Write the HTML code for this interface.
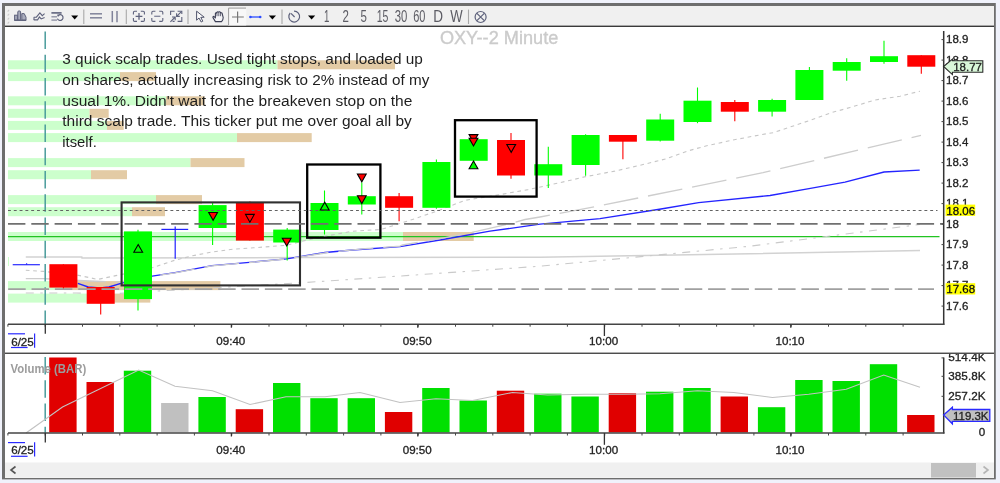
<!DOCTYPE html><html><head><meta charset="utf-8"><title>OXY 2 Minute</title>
<style>html,body{margin:0;padding:0;background:#f1f3fb;}body{width:1000px;height:483px;overflow:hidden;position:relative;font-family:"Liberation Sans",sans-serif;}svg{position:absolute;left:0;top:0;display:block;filter:blur(0.33px)}text{font-family:"Liberation Sans",sans-serif}.b{stroke:#222;stroke-width:0.3px}</style></head><body>
<svg width="1000" height="483" viewBox="0 0 1000 483">
<rect x="0" y="0" width="1000" height="483" fill="#f0f2fb"/>
<rect x="2" y="3" width="993.8" height="476.4" fill="#6e6e6e"/>
<rect x="5" y="6" width="989" height="472" fill="#ffffff"/>
<rect x="5" y="6" width="989" height="20" fill="#f0f0f0"/>
<rect x="5" y="25.6" width="989" height="1.4" fill="#3a3a3a"/>
<rect x="5" y="352.6" width="989" height="1.3" fill="#3a3a3a"/>
<rect x="5" y="462.5" width="989" height="15.3" fill="#f0f0f0"/>
<rect x="931" y="463" width="45" height="14.5" fill="#c1c1c1"/>
<path d="M15.5 466.5 L11 470 L15.5 473.5" fill="none" stroke="#555" stroke-width="1.6"/>
<path d="M983.5 466.5 L988 470 L983.5 473.5" fill="none" stroke="#b5b5b5" stroke-width="1.6"/>
<rect x="8.0" y="60.3" width="269.5" height="9.0" fill="#ccffcc"/>
<rect x="277.5" y="60.3" width="117.5" height="9.0" fill="#e3cba5"/>
<rect x="8.0" y="72.1" width="112.0" height="9.0" fill="#ccffcc"/>
<rect x="120.0" y="72.1" width="36.0" height="9.0" fill="#e3cba5"/>
<rect x="8.0" y="96.3" width="158.0" height="9.0" fill="#ccffcc"/>
<rect x="166.0" y="96.3" width="38.5" height="9.0" fill="#e3cba5"/>
<rect x="8.0" y="108.8" width="81.5" height="9.0" fill="#ccffcc"/>
<rect x="89.5" y="108.8" width="19.2" height="9.0" fill="#e3cba5"/>
<rect x="8.0" y="120.9" width="99.0" height="9.0" fill="#ccffcc"/>
<rect x="107.0" y="120.9" width="16.7" height="9.0" fill="#e3cba5"/>
<rect x="8.0" y="133.1" width="229.0" height="9.0" fill="#ccffcc"/>
<rect x="237.0" y="133.1" width="74.7" height="9.0" fill="#e3cba5"/>
<rect x="8.0" y="158.1" width="182.5" height="9.0" fill="#ccffcc"/>
<rect x="190.5" y="158.1" width="54.0" height="9.0" fill="#e3cba5"/>
<rect x="8.0" y="170.2" width="83.0" height="9.0" fill="#ccffcc"/>
<rect x="91.0" y="170.2" width="36.0" height="9.0" fill="#e3cba5"/>
<rect x="8.0" y="195.1" width="148.0" height="9.0" fill="#ccffcc"/>
<rect x="156.0" y="195.1" width="46.0" height="9.0" fill="#e3cba5"/>
<rect x="8.0" y="207.2" width="124.0" height="9.0" fill="#ccffcc"/>
<rect x="132.0" y="207.2" width="33.0" height="9.0" fill="#e3cba5"/>
<rect x="8.0" y="232.0" width="395.0" height="9.0" fill="#ccffcc"/>
<rect x="403.0" y="232.0" width="70.7" height="9.0" fill="#e3cba5"/>
<rect x="8.0" y="257.0" width="1.0" height="9.0" fill="#ccffcc"/>
<rect x="8.0" y="281.1" width="56.0" height="9.0" fill="#ccffcc"/>
<rect x="64.0" y="281.1" width="156.4" height="9.0" fill="#e3cba5"/>
<rect x="8.0" y="293.6" width="92.0" height="9.0" fill="#ccffcc"/>
<rect x="100.0" y="293.6" width="50.3" height="9.0" fill="#e3cba5"/>
<text x="439.9" y="43.5" font-size="17.8" fill="#cbcbcb" stroke="#cbcbcb" stroke-width="0.35" textLength="118.4" lengthAdjust="spacingAndGlyphs">OXY--2 Minute</text>
<line x1="8" y1="236.6" x2="939.5" y2="236.6" stroke="#22c422" stroke-width="1.1"/>
<polyline points="25.8,257.0 81.8,257.0 82.0,258.0 300.0,257.6 540.0,257.3 750.0,253.7 920.0,250.5" fill="none" stroke="#d2d2d2" stroke-width="1.5"/>
<polyline points="25.8,270.3 43.4,271.4 78.6,275.4 97.8,279.4 117.0,275.4 138.0,271.0 153.0,267.5 175.0,260.2 191.4,256.0 212.0,252.0 232.8,249.2 253.5,247.8 286.6,245.3 303.0,241.0 325.0,236.2 352.5,231.2 381.0,229.5 415.0,218.7 440.0,210.0 465.0,200.3 500.0,194.6 528.0,189.6 560.0,182.7 585.0,176.8 614.7,171.1 639.7,165.4 667.0,158.6 687.6,151.0 705.8,146.0 733.0,140.0 760.0,134.9 773.5,132.6 811.0,120.0 832.0,112.5 850.0,107.5 875.0,100.0 900.0,96.2 920.0,91.2" fill="none" stroke="#c6c6c6" stroke-width="1.1" stroke-dasharray="3.7 3.7"/>
<polyline points="25.8,293.0 76.0,293.0 110.0,294.0 150.0,291.5 220.0,287.5 305.0,282.5 415.0,275.0 540.0,266.2 750.0,246.2 920.0,224.5" fill="none" stroke="#cacaca" stroke-width="1.1" stroke-dasharray="8 6.5 2.5 6.5"/>
<line x1="12.7" y1="264.7" x2="39.9" y2="264.7" stroke="#2a2aff" stroke-width="1.2"/>
<line x1="26.6" y1="263.2" x2="26.6" y2="264.7" stroke="#2a2aff" stroke-width="1.2"/>
<polyline points="77.8,283.4 88.2,287.0 100.0,288.0 109.0,287.0 123.4,282.6 152.2,276.2 175.0,272.6 212.0,265.6 249.4,262.3 286.6,258.8 325.0,252.5 352.5,250.0 400.0,246.7 440.0,240.0 490.0,231.2 540.0,224.2 600.0,218.6 661.0,209.0 698.6,202.7 770.0,195.5 809.0,188.7 845.0,182.2 884.0,172.0 919.7,170.2" fill="none" stroke="#2424ff" stroke-width="1.35"/>
<polyline points="25.8,278.6 43.4,278.6 78.6,280.5 101.0,281.5 120.0,282.0 152.0,276.5 175.0,272.8 212.0,265.8 249.4,262.5 286.6,259.0 332.0,252.0 365.0,248.7 400.0,246.2 402.5,245.0 440.0,238.7 477.5,231.2 510.0,223.7 525.0,219.5 540.0,217.0 600.0,205.7 763.0,172.7 921.0,135.3" fill="none" stroke="#cdcdcd" stroke-width="1.35" stroke-dasharray="35 10"/>
<line x1="45.2" y1="31.5" x2="45.2" y2="324" stroke="#4a9c9c" stroke-width="1.5" stroke-dasharray="17.5 5.75"/>
<line x1="45.2" y1="357" x2="45.2" y2="433" stroke="#4a9c9c" stroke-width="1.5" stroke-dasharray="17.5 5.75"/>
<line x1="63.4" y1="264.2" x2="63.4" y2="289.0" stroke="#ff0000" stroke-width="1.1"/>
<rect x="49.4" y="264.2" width="28.0" height="23.4" fill="#ff0000"/>
<line x1="100.7" y1="287.0" x2="100.7" y2="314.5" stroke="#ff0000" stroke-width="1.1"/>
<rect x="86.7" y="287.0" width="28.0" height="16.8" fill="#ff0000"/>
<line x1="138.0" y1="229.8" x2="138.0" y2="310.5" stroke="#00ff00" stroke-width="1.1"/>
<rect x="124.0" y="231.4" width="28.0" height="67.7" fill="#00ff00"/>
<line x1="175.2" y1="226.5" x2="175.2" y2="258.7" stroke="#2020ff" stroke-width="1.2"/>
<line x1="161.4" y1="229.4" x2="188.2" y2="229.4" stroke="#2020ff" stroke-width="1.2"/>
<line x1="212.6" y1="202.8" x2="212.6" y2="245.0" stroke="#00ff00" stroke-width="1.1"/>
<rect x="198.6" y="205.1" width="28.0" height="22.9" fill="#00ff00"/>
<line x1="249.9" y1="201.6" x2="249.9" y2="240.6" stroke="#ff0000" stroke-width="1.1"/>
<rect x="235.9" y="202.8" width="28.0" height="37.8" fill="#ff0000"/>
<line x1="287.2" y1="228.0" x2="287.2" y2="260.6" stroke="#00ff00" stroke-width="1.1"/>
<rect x="273.2" y="229.6" width="28.0" height="12.9" fill="#00ff00"/>
<line x1="324.5" y1="190.5" x2="324.5" y2="234.5" stroke="#00ff00" stroke-width="1.1"/>
<rect x="310.5" y="203.0" width="28.0" height="27.0" fill="#00ff00"/>
<line x1="361.8" y1="182.5" x2="361.8" y2="214.5" stroke="#00ff00" stroke-width="1.1"/>
<rect x="347.8" y="196.2" width="28.0" height="8.3" fill="#00ff00"/>
<line x1="399.1" y1="193.0" x2="399.1" y2="221.2" stroke="#ff0000" stroke-width="1.1"/>
<rect x="385.1" y="196.2" width="28.0" height="11.6" fill="#ff0000"/>
<line x1="436.4" y1="159.5" x2="436.4" y2="208.7" stroke="#00ff00" stroke-width="1.1"/>
<rect x="422.4" y="162.0" width="28.0" height="45.8" fill="#00ff00"/>
<line x1="473.7" y1="138.5" x2="473.7" y2="168.0" stroke="#00ff00" stroke-width="1.1"/>
<rect x="459.7" y="139.2" width="28.0" height="21.6" fill="#00ff00"/>
<line x1="511.0" y1="133.0" x2="511.0" y2="178.7" stroke="#ff0000" stroke-width="1.1"/>
<rect x="497.0" y="140.0" width="28.0" height="35.5" fill="#ff0000"/>
<line x1="548.3" y1="146.7" x2="548.3" y2="188.0" stroke="#00ff00" stroke-width="1.1"/>
<rect x="534.3" y="164.2" width="28.0" height="11.3" fill="#00ff00"/>
<line x1="585.6" y1="134.2" x2="585.6" y2="175.7" stroke="#00ff00" stroke-width="1.1"/>
<rect x="571.6" y="135.0" width="28.0" height="30.0" fill="#00ff00"/>
<line x1="622.9" y1="135.0" x2="622.9" y2="159.2" stroke="#ff0000" stroke-width="1.1"/>
<rect x="608.9" y="135.0" width="28.0" height="6.7" fill="#ff0000"/>
<line x1="660.2" y1="113.7" x2="660.2" y2="141.5" stroke="#00ff00" stroke-width="1.1"/>
<rect x="646.2" y="119.5" width="28.0" height="21.2" fill="#00ff00"/>
<line x1="697.5" y1="87.5" x2="697.5" y2="123.2" stroke="#00ff00" stroke-width="1.1"/>
<rect x="683.5" y="100.7" width="28.0" height="21.3" fill="#00ff00"/>
<line x1="734.8" y1="100.0" x2="734.8" y2="121.2" stroke="#ff0000" stroke-width="1.1"/>
<rect x="720.8" y="102.0" width="28.0" height="9.7" fill="#ff0000"/>
<line x1="772.1" y1="98.7" x2="772.1" y2="116.5" stroke="#00ff00" stroke-width="1.1"/>
<rect x="758.1" y="100.0" width="28.0" height="11.7" fill="#00ff00"/>
<line x1="809.4" y1="67.0" x2="809.4" y2="100.0" stroke="#00ff00" stroke-width="1.1"/>
<rect x="795.4" y="70.0" width="28.0" height="30.0" fill="#00ff00"/>
<line x1="846.7" y1="58.2" x2="846.7" y2="80.7" stroke="#00ff00" stroke-width="1.1"/>
<rect x="832.7" y="62.0" width="28.0" height="8.7" fill="#00ff00"/>
<line x1="884.0" y1="40.7" x2="884.0" y2="63.7" stroke="#00ff00" stroke-width="1.1"/>
<rect x="870.0" y="56.2" width="28.0" height="5.8" fill="#00ff00"/>
<line x1="921.3" y1="55.2" x2="921.3" y2="73.7" stroke="#ff0000" stroke-width="1.1"/>
<rect x="907.3" y="55.2" width="28.0" height="11.5" fill="#ff0000"/>
<rect x="121.6" y="202.4" width="178.4" height="83.0" fill="none" stroke="#303030" stroke-width="2.1"/>
<rect x="307.2" y="164.5" width="73.2" height="73.2" fill="none" stroke="#000" stroke-width="2.3"/>
<rect x="455.0" y="120.2" width="81.6" height="76.4" fill="none" stroke="#000" stroke-width="2.3"/>
<line x1="8" y1="210.5" x2="937.5" y2="210.5" stroke="#626262" stroke-width="1" stroke-dasharray="2.9 2.9"/>
<line x1="8" y1="223.9" x2="943" y2="223.9" stroke="#707070" stroke-width="1.9" stroke-dasharray="17.4 5.9"/>
<line x1="8.2" y1="289.1" x2="934" y2="289.1" stroke="#a0a0a0" stroke-width="1.6" stroke-dasharray="17.5 5.83"/>
<path d="M133.8 252.3 L142.6 252.3 L138.2 244.5 Z" fill="none" stroke="#000" stroke-width="1.1"/>
<path d="M208.7 212.5 L217.5 212.5 L213.1 220.3 Z" fill="#ff0000" stroke="#000" stroke-width="1.1"/>
<path d="M245.5 214.4 L254.3 214.4 L249.9 222.2 Z" fill="none" stroke="#000" stroke-width="1.1"/>
<path d="M282.3 238.2 L291.1 238.2 L286.7 246.0 Z" fill="#ff0000" stroke="#000" stroke-width="1.1"/>
<path d="M320.3 210.0 L329.1 210.0 L324.7 202.2 Z" fill="none" stroke="#000" stroke-width="1.1"/>
<path d="M357.4 174.0 L366.2 174.0 L361.8 181.8 Z" fill="#ff0000" stroke="#000" stroke-width="1.1"/>
<path d="M357.4 195.8 L366.2 195.8 L361.8 203.6 Z" fill="#ff0000" stroke="#000" stroke-width="1.1"/>
<path d="M469.1 134.6 L477.9 134.6 L473.5 142.4 Z" fill="#ff0000" stroke="#000" stroke-width="1.1"/>
<path d="M469.1 138.2 L477.9 138.2 L473.5 146.0 Z" fill="#ff0000" stroke="#000" stroke-width="1.1"/>
<path d="M469.1 168.8 L477.9 168.8 L473.5 161.0 Z" fill="#00ff00" stroke="#000" stroke-width="1.1"/>
<path d="M506.8 144.5 L515.6 144.5 L511.2 152.3 Z" fill="none" stroke="#000" stroke-width="1.1"/>
<line x1="943.7" y1="31" x2="943.7" y2="324.8" stroke="#333" stroke-width="1.5"/>
<line x1="8" y1="324.2" x2="944.5" y2="324.2" stroke="#444" stroke-width="1.4"/>
<line x1="941.5" y1="39.6" x2="943.8" y2="39.6" stroke="#444" stroke-width="1"/>
<text x="946.0" y="43.4" font-size="11.5" fill="#222" class="b">18.9</text>
<line x1="941.5" y1="60.1" x2="943.8" y2="60.1" stroke="#444" stroke-width="1"/>
<text x="946.0" y="63.9" font-size="11.5" fill="#222" class="b">18.8</text>
<line x1="941.5" y1="80.6" x2="943.8" y2="80.6" stroke="#444" stroke-width="1"/>
<text x="946.0" y="84.4" font-size="11.5" fill="#222" class="b">18.7</text>
<line x1="941.5" y1="101.1" x2="943.8" y2="101.1" stroke="#444" stroke-width="1"/>
<text x="946.0" y="104.9" font-size="11.5" fill="#222" class="b">18.6</text>
<line x1="941.5" y1="121.6" x2="943.8" y2="121.6" stroke="#444" stroke-width="1"/>
<text x="946.0" y="125.4" font-size="11.5" fill="#222" class="b">18.5</text>
<line x1="941.5" y1="142.1" x2="943.8" y2="142.1" stroke="#444" stroke-width="1"/>
<text x="946.0" y="145.9" font-size="11.5" fill="#222" class="b">18.4</text>
<line x1="941.5" y1="162.6" x2="943.8" y2="162.6" stroke="#444" stroke-width="1"/>
<text x="946.0" y="166.4" font-size="11.5" fill="#222" class="b">18.3</text>
<line x1="941.5" y1="183.1" x2="943.8" y2="183.1" stroke="#444" stroke-width="1"/>
<text x="946.0" y="186.9" font-size="11.5" fill="#222" class="b">18.2</text>
<line x1="941.5" y1="203.6" x2="943.8" y2="203.6" stroke="#444" stroke-width="1"/>
<text x="946.0" y="207.4" font-size="11.5" fill="#222" class="b">18.1</text>
<line x1="941.5" y1="224.1" x2="943.8" y2="224.1" stroke="#444" stroke-width="1"/>
<text x="946.0" y="227.9" font-size="11.5" fill="#222" class="b">18</text>
<line x1="941.5" y1="244.6" x2="943.8" y2="244.6" stroke="#444" stroke-width="1"/>
<text x="946.0" y="248.4" font-size="11.5" fill="#222" class="b">17.9</text>
<line x1="941.5" y1="265.1" x2="943.8" y2="265.1" stroke="#444" stroke-width="1"/>
<text x="946.0" y="268.9" font-size="11.5" fill="#222" class="b">17.8</text>
<line x1="941.5" y1="285.6" x2="943.8" y2="285.6" stroke="#444" stroke-width="1"/>
<text x="946.0" y="289.4" font-size="11.5" fill="#222" class="b">17.7</text>
<line x1="941.5" y1="306.1" x2="943.8" y2="306.1" stroke="#444" stroke-width="1"/>
<text x="946.0" y="309.9" font-size="11.5" fill="#222" class="b">17.6</text>
<rect x="945.6" y="204.6" width="29.6" height="11.3" fill="#ffff00"/>
<text x="946.3" y="214.6" font-size="11.5" fill="#000" class="b">18.06</text>
<rect x="945.6" y="283.2" width="29.6" height="11.3" fill="#ffff00"/>
<text x="946.3" y="293.2" font-size="11.5" fill="#000" class="b">17.68</text>
<path d="M943.6 66.5 L952.4 59.2 L952.4 60.8 L982.8 60.8 L982.8 72.3 L952.4 72.3 L952.4 74.6 Z" fill="#d9f7d9" stroke="#2a2a2a" stroke-width="1.1" stroke-linejoin="miter"/>
<text x="953.2" y="70.8" font-size="11.5" fill="#222" class="b">18.77</text>
<line x1="7.9" y1="324.2" x2="7.9" y2="326.7" stroke="#444" stroke-width="1"/>
<line x1="45.2" y1="324.2" x2="45.2" y2="326.7" stroke="#444" stroke-width="1"/>
<line x1="82.5" y1="324.2" x2="82.5" y2="326.7" stroke="#444" stroke-width="1"/>
<line x1="119.8" y1="324.2" x2="119.8" y2="326.7" stroke="#444" stroke-width="1"/>
<line x1="157.1" y1="324.2" x2="157.1" y2="326.7" stroke="#444" stroke-width="1"/>
<line x1="194.4" y1="324.2" x2="194.4" y2="326.7" stroke="#444" stroke-width="1"/>
<line x1="231.7" y1="324.2" x2="231.7" y2="326.7" stroke="#444" stroke-width="1"/>
<line x1="269.0" y1="324.2" x2="269.0" y2="326.7" stroke="#444" stroke-width="1"/>
<line x1="306.3" y1="324.2" x2="306.3" y2="326.7" stroke="#444" stroke-width="1"/>
<line x1="343.6" y1="324.2" x2="343.6" y2="326.7" stroke="#444" stroke-width="1"/>
<line x1="380.9" y1="324.2" x2="380.9" y2="326.7" stroke="#444" stroke-width="1"/>
<line x1="418.2" y1="324.2" x2="418.2" y2="326.7" stroke="#444" stroke-width="1"/>
<line x1="455.5" y1="324.2" x2="455.5" y2="326.7" stroke="#444" stroke-width="1"/>
<line x1="492.8" y1="324.2" x2="492.8" y2="326.7" stroke="#444" stroke-width="1"/>
<line x1="530.1" y1="324.2" x2="530.1" y2="326.7" stroke="#444" stroke-width="1"/>
<line x1="567.4" y1="324.2" x2="567.4" y2="326.7" stroke="#444" stroke-width="1"/>
<line x1="604.7" y1="324.2" x2="604.7" y2="326.7" stroke="#444" stroke-width="1"/>
<line x1="642.0" y1="324.2" x2="642.0" y2="326.7" stroke="#444" stroke-width="1"/>
<line x1="679.3" y1="324.2" x2="679.3" y2="326.7" stroke="#444" stroke-width="1"/>
<line x1="716.6" y1="324.2" x2="716.6" y2="326.7" stroke="#444" stroke-width="1"/>
<line x1="753.9" y1="324.2" x2="753.9" y2="326.7" stroke="#444" stroke-width="1"/>
<line x1="791.2" y1="324.2" x2="791.2" y2="326.7" stroke="#444" stroke-width="1"/>
<line x1="828.5" y1="324.2" x2="828.5" y2="326.7" stroke="#444" stroke-width="1"/>
<line x1="865.8" y1="324.2" x2="865.8" y2="326.7" stroke="#444" stroke-width="1"/>
<line x1="903.1" y1="324.2" x2="903.1" y2="326.7" stroke="#444" stroke-width="1"/>
<line x1="45.3" y1="324.2" x2="45.3" y2="333.8" stroke="#333" stroke-width="1.3"/>
<line x1="231.4" y1="324.2" x2="231.4" y2="327.7" stroke="#333" stroke-width="1.3"/>
<line x1="417.8" y1="324.2" x2="417.8" y2="327.7" stroke="#333" stroke-width="1.3"/>
<line x1="604.4" y1="324.2" x2="604.4" y2="336.0" stroke="#333" stroke-width="1.3"/>
<line x1="790.8" y1="324.2" x2="790.8" y2="327.7" stroke="#333" stroke-width="1.3"/>
<text x="230.8" y="344.9" font-size="11.6" fill="#222" class="b" text-anchor="middle">09:40</text>
<text x="417.2" y="344.9" font-size="11.6" fill="#222" class="b" text-anchor="middle">09:50</text>
<text x="603.6" y="344.9" font-size="11.6" fill="#222" class="b" text-anchor="middle">10:00</text>
<text x="790.0" y="344.9" font-size="11.6" fill="#222" class="b" text-anchor="middle">10:10</text>
<text x="11.2" y="345.5" font-size="11.6" fill="#222" class="b">6/25</text>
<line x1="8" y1="333.8" x2="25" y2="333.8" stroke="#2a2aff" stroke-width="1.2"/>
<line x1="11" y1="347.5" x2="27.6" y2="347.5" stroke="#2a2aff" stroke-width="1.2"/>
<line x1="34.6" y1="333.4" x2="34.6" y2="347.8" stroke="#2a2aff" stroke-width="1.2"/>
<rect x="49.2" y="357.5" width="27.4" height="74.9" fill="#e00000"/>
<rect x="86.5" y="382.0" width="27.4" height="50.4" fill="#e00000"/>
<rect x="123.8" y="370.7" width="27.4" height="61.7" fill="#00e000"/>
<rect x="161.1" y="403.0" width="27.4" height="29.4" fill="#c0c0c0"/>
<rect x="198.4" y="397.0" width="27.4" height="35.4" fill="#00e000"/>
<rect x="235.7" y="409.2" width="27.4" height="23.2" fill="#e00000"/>
<rect x="273.0" y="383.0" width="27.4" height="49.4" fill="#00e000"/>
<rect x="310.3" y="398.2" width="27.4" height="34.2" fill="#00e000"/>
<rect x="347.6" y="398.2" width="27.4" height="34.2" fill="#00e000"/>
<rect x="384.9" y="412.0" width="27.4" height="20.4" fill="#e00000"/>
<rect x="422.2" y="388.0" width="27.4" height="44.4" fill="#00e000"/>
<rect x="459.5" y="400.5" width="27.4" height="31.9" fill="#00e000"/>
<rect x="496.8" y="390.7" width="27.4" height="41.7" fill="#e00000"/>
<rect x="534.1" y="393.7" width="27.4" height="38.7" fill="#00e000"/>
<rect x="571.4" y="396.5" width="27.4" height="35.9" fill="#00e000"/>
<rect x="608.7" y="393.2" width="27.4" height="39.2" fill="#e00000"/>
<rect x="646.0" y="391.7" width="27.4" height="40.7" fill="#00e000"/>
<rect x="683.3" y="388.0" width="27.4" height="44.4" fill="#00e000"/>
<rect x="720.6" y="396.5" width="27.4" height="35.9" fill="#e00000"/>
<rect x="757.9" y="407.2" width="27.4" height="25.2" fill="#00e000"/>
<rect x="795.2" y="380.0" width="27.4" height="52.4" fill="#00e000"/>
<rect x="832.5" y="381.0" width="27.4" height="51.4" fill="#00e000"/>
<rect x="869.8" y="364.2" width="27.4" height="68.2" fill="#00e000"/>
<rect x="907.1" y="415.0" width="27.4" height="17.4" fill="#e00000"/>
<polyline points="26.0,433.0 62.5,407.0 138.7,370.0 175.0,386.2 212.5,390.7 250.0,404.5 286.0,396.7 325.0,396.7 360.0,392.5 400.0,402.5 436.0,398.7 472.5,400.5 512.5,392.5 547.5,395.0 585.0,394.2 622.5,394.2 660.0,393.7 697.5,390.7 733.7,392.5 772.5,397.5 808.7,394.2 846.2,389.2 883.7,375.0 920.0,387.2" fill="none" stroke="#c2c2c2" stroke-width="1.1"/>
<text x="10.6" y="373.3" font-size="12" font-weight="bold" fill="#9c9c9c" textLength="75.6" lengthAdjust="spacingAndGlyphs">Volume (BAR)</text>
<line x1="943.7" y1="357.5" x2="943.7" y2="433.5" stroke="#333" stroke-width="1.5"/>
<line x1="8" y1="433" x2="944.5" y2="433" stroke="#444" stroke-width="1.4"/>
<line x1="7.9" y1="433.0" x2="7.9" y2="435.5" stroke="#444" stroke-width="1"/>
<line x1="45.2" y1="433.0" x2="45.2" y2="435.5" stroke="#444" stroke-width="1"/>
<line x1="82.5" y1="433.0" x2="82.5" y2="435.5" stroke="#444" stroke-width="1"/>
<line x1="119.8" y1="433.0" x2="119.8" y2="435.5" stroke="#444" stroke-width="1"/>
<line x1="157.1" y1="433.0" x2="157.1" y2="435.5" stroke="#444" stroke-width="1"/>
<line x1="194.4" y1="433.0" x2="194.4" y2="435.5" stroke="#444" stroke-width="1"/>
<line x1="231.7" y1="433.0" x2="231.7" y2="435.5" stroke="#444" stroke-width="1"/>
<line x1="269.0" y1="433.0" x2="269.0" y2="435.5" stroke="#444" stroke-width="1"/>
<line x1="306.3" y1="433.0" x2="306.3" y2="435.5" stroke="#444" stroke-width="1"/>
<line x1="343.6" y1="433.0" x2="343.6" y2="435.5" stroke="#444" stroke-width="1"/>
<line x1="380.9" y1="433.0" x2="380.9" y2="435.5" stroke="#444" stroke-width="1"/>
<line x1="418.2" y1="433.0" x2="418.2" y2="435.5" stroke="#444" stroke-width="1"/>
<line x1="455.5" y1="433.0" x2="455.5" y2="435.5" stroke="#444" stroke-width="1"/>
<line x1="492.8" y1="433.0" x2="492.8" y2="435.5" stroke="#444" stroke-width="1"/>
<line x1="530.1" y1="433.0" x2="530.1" y2="435.5" stroke="#444" stroke-width="1"/>
<line x1="567.4" y1="433.0" x2="567.4" y2="435.5" stroke="#444" stroke-width="1"/>
<line x1="604.7" y1="433.0" x2="604.7" y2="435.5" stroke="#444" stroke-width="1"/>
<line x1="642.0" y1="433.0" x2="642.0" y2="435.5" stroke="#444" stroke-width="1"/>
<line x1="679.3" y1="433.0" x2="679.3" y2="435.5" stroke="#444" stroke-width="1"/>
<line x1="716.6" y1="433.0" x2="716.6" y2="435.5" stroke="#444" stroke-width="1"/>
<line x1="753.9" y1="433.0" x2="753.9" y2="435.5" stroke="#444" stroke-width="1"/>
<line x1="791.2" y1="433.0" x2="791.2" y2="435.5" stroke="#444" stroke-width="1"/>
<line x1="828.5" y1="433.0" x2="828.5" y2="435.5" stroke="#444" stroke-width="1"/>
<line x1="865.8" y1="433.0" x2="865.8" y2="435.5" stroke="#444" stroke-width="1"/>
<line x1="903.1" y1="433.0" x2="903.1" y2="435.5" stroke="#444" stroke-width="1"/>
<line x1="45.3" y1="433.0" x2="45.3" y2="442.6" stroke="#333" stroke-width="1.3"/>
<line x1="231.4" y1="433.0" x2="231.4" y2="436.5" stroke="#333" stroke-width="1.3"/>
<line x1="417.8" y1="433.0" x2="417.8" y2="436.5" stroke="#333" stroke-width="1.3"/>
<line x1="604.4" y1="433.0" x2="604.4" y2="444.8" stroke="#333" stroke-width="1.3"/>
<line x1="790.8" y1="433.0" x2="790.8" y2="436.5" stroke="#333" stroke-width="1.3"/>
<text x="230.8" y="454.3" font-size="11.6" fill="#222" class="b" text-anchor="middle">09:40</text>
<text x="417.2" y="454.3" font-size="11.6" fill="#222" class="b" text-anchor="middle">09:50</text>
<text x="603.6" y="454.3" font-size="11.6" fill="#222" class="b" text-anchor="middle">10:00</text>
<text x="790.0" y="454.3" font-size="11.6" fill="#222" class="b" text-anchor="middle">10:10</text>
<text x="11.2" y="454.3" font-size="11.6" fill="#222" class="b">6/25</text>
<line x1="8" y1="442.6" x2="25" y2="442.6" stroke="#2a2aff" stroke-width="1.2"/>
<line x1="11" y1="456.3" x2="27.6" y2="456.3" stroke="#2a2aff" stroke-width="1.2"/>
<line x1="34.6" y1="442.2" x2="34.6" y2="456.6" stroke="#2a2aff" stroke-width="1.2"/>
<clipPath id="vc"><rect x="940" y="354" width="54" height="90"/></clipPath>
<g clip-path="url(#vc)">
<text x="948.3" y="361.4" font-size="11.6" fill="#222" class="b" textLength="37.2" lengthAdjust="spacingAndGlyphs">514.4K</text>
<line x1="941.5" y1="357.9" x2="943.8" y2="357.9" stroke="#444" stroke-width="1"/>
<text x="948.3" y="379.8" font-size="11.6" fill="#222" class="b" textLength="37.2" lengthAdjust="spacingAndGlyphs">385.8K</text>
<line x1="941.5" y1="376.3" x2="943.8" y2="376.3" stroke="#444" stroke-width="1"/>
<text x="948.3" y="399.8" font-size="11.6" fill="#222" class="b" textLength="37.2" lengthAdjust="spacingAndGlyphs">257.2K</text>
<line x1="941.5" y1="396.3" x2="943.8" y2="396.3" stroke="#444" stroke-width="1"/>
</g>
<text x="985.3" y="436" font-size="11.6" fill="#222" class="b" text-anchor="end">0</text>
<path d="M943.6 414.9 L952.4 407.2 L952.4 409.5 L989.8 409.5 L989.8 421.4 L952.4 421.4 L952.4 423.8 Z" fill="#c0c0c0" stroke="#2a2aff" stroke-width="1.3" stroke-linejoin="miter"/>
<text x="953" y="419.7" font-size="11.6" fill="#222" class="b" textLength="35.5" lengthAdjust="spacingAndGlyphs">119.3K</text>
<text x="62.3" y="64.0" font-size="15.3" fill="#1e1e1e" textLength="360.5" lengthAdjust="spacingAndGlyphs">3 quick scalp trades. Used tight stops, and loaded up</text>
<text x="62.3" y="84.8" font-size="15.3" fill="#1e1e1e" textLength="367.0" lengthAdjust="spacingAndGlyphs">on shares, actually increasing risk to 2% instead of my</text>
<text x="62.3" y="105.6" font-size="15.3" fill="#1e1e1e" textLength="350.0" lengthAdjust="spacingAndGlyphs">usual 1%. Didn't wait for the breakeven stop on the</text>
<text x="62.3" y="126.4" font-size="15.3" fill="#1e1e1e" textLength="349.5" lengthAdjust="spacingAndGlyphs">third scalp trade. This ticker put me over goal all by</text>
<text x="62.3" y="147.2" font-size="15.3" fill="#1e1e1e" textLength="34.5" lengthAdjust="spacingAndGlyphs">itself.</text>
<g id="toolbar">
<!-- gripper -->
<g fill="#b4b4b4"><rect x="8.3" y="9.8" width="0.9" height="0.9"/><rect x="7.6" y="10.7" width="0.9" height="0.9"/><rect x="8.3" y="13.8" width="0.9" height="0.9"/><rect x="7.6" y="14.7" width="0.9" height="0.9"/><rect x="8.3" y="17.8" width="0.9" height="0.9"/><rect x="7.6" y="18.7" width="0.9" height="0.9"/><rect x="8.3" y="21.8" width="0.9" height="0.9"/><rect x="7.6" y="22.7" width="0.9" height="0.9"/></g>
<!-- icon1: bars -->
<g stroke="#5e627c" stroke-width="1" fill="#a9acbc">
<rect x="14.6" y="15.2" width="2.8" height="5"/>
<rect x="17.8" y="11" width="2.8" height="9.2" rx="1"/>
<path d="M21.8 20.2 V13.6 H24.2 L26 17.2 V20.2 Z"/>
<path d="M14.4 20.3 H26.2" stroke-width="1.3"/>
</g>
<!-- icon2: wavy chart -->
<g fill="none" stroke="#5e627c" stroke-width="1.1">
<path d="M33.8 17.2 H36.4 L39.9 12.8 L42.3 15.6 L44.6 13.6"/>
<path d="M33.8 19.9 H37.6 L39.4 17 L41.2 18.9 L44.6 17.4"/>
<path d="M34 17.2 V19.9"/>
</g>
<!-- icon3: lines + circle -->
<g fill="none" stroke="#5e627c">
<path d="M51.4 12.9 H61.6" stroke-width="1.6"/>
<path d="M51.4 16.8 H57" stroke-width="1.3" stroke="#8a8da0"/>
<path d="M51.4 20.1 H57" stroke-width="1.3" stroke="#8a8da0"/>
<path d="M58.2 15.4 A2.9 2.9 0 1 1 57.4 18.6" stroke-width="1.2"/>
<path d="M56.9 14.6 L59.6 14.9 L58 16.9 Z" fill="#5e627c" stroke="none"/>
</g>
<path d="M71.2 15.4 H78.2 L74.7 19.6 Z" fill="#000"/>
<line x1="83.8" y1="9.6" x2="83.8" y2="24" stroke="#a8a8a8" stroke-width="1.1"/>
<!-- = and || -->
<g stroke="#80839a" stroke-width="1.5">
<line x1="90" y1="13.8" x2="102" y2="13.8"/><line x1="90" y1="17.8" x2="102" y2="17.8"/>
<line x1="112.3" y1="11" x2="112.3" y2="22.2"/><line x1="117" y1="11" x2="117" y2="22.2"/>
</g>
<line x1="126.3" y1="9.6" x2="126.3" y2="24" stroke="#a8a8a8" stroke-width="1.1"/>
<!-- zoom in -->
<g fill="none" stroke="#5e627c" stroke-width="1.1" stroke-linecap="butt">
<path d="M133.4 14.6 V12.4 Q133.4 11.2 134.6 11.2 H137 M140.8 11.2 H143.2 Q144.4 11.2 144.4 12.4 V14.6 M144.4 18 V20.2 Q144.4 21.4 143.2 21.4 H140.8 M137 21.4 H134.6 Q133.4 21.4 133.4 20.2 V18"/>
<path d="M135.6 16.3 H142.4 M139 12.9 V19.7" stroke-width="1.3"/>
<path d="M151.8 14.6 V12.4 Q151.8 11.2 153 11.2 H155.4 M159.2 11.2 H161.6 Q162.8 11.2 162.8 12.4 V14.6 M162.8 18 V20.2 Q162.8 21.4 161.6 21.4 H159.2 M155.4 21.4 H153 Q151.8 21.4 151.8 20.2 V18"/>
<path d="M154.2 16.3 H160.4" stroke-width="1.3" stroke="#80839a"/>
<!-- expand icon -->
<path d="M170.6 15 V11.2 H174.6 M177.6 11.2 H181.8 V14 M181.8 17 V21.4 H177.6 M174.6 21.4 H172.6"/>
<path d="M181.4 11.6 L176.6 16.4 M176.6 13.2 V16.4 H179.8"/>
<path d="M170.4 21.8 L175.2 17 M172 17 H175.2 V20.2"/>
</g>
<line x1="188" y1="9.6" x2="188" y2="24" stroke="#a8a8a8" stroke-width="1.1"/>
<!-- pointer -->
<path d="M196.6 11.2 L196.6 20.2 L199 18 L201.2 22 L202.8 21.2 L200.8 17.4 L204.2 17.2 Z" fill="#fafafa" stroke="#474b63" stroke-width="0.95" stroke-linejoin="round"/>
<!-- hand -->
<path d="M215.4 21.6 L213 17.6 Q212.6 16.4 213.8 16.4 L215.4 17.8 V13.4 Q216 12.4 216.8 13.2 V12.4 Q217.6 11.4 218.6 12.2 V12 Q219.6 11.2 220.4 12.4 V13 Q221.6 12.4 222.2 13.6 L223.2 17.6 Q223.2 20 221.6 21.6 Z" fill="#f4f4f6" stroke="#3c3f55" stroke-width="1.1" stroke-linejoin="round"/>
<path d="M217 13.4 V16.2 M218.8 12.6 V16.2 M220.6 13.2 V16.2" stroke="#3c3f55" stroke-width="0.8" fill="none"/>
<!-- selected crosshair button -->
<rect x="228.4" y="8" width="17.8" height="17.4" fill="#f8f8f8"/>
<path d="M228.6 25.2 V8.1 H246" fill="none" stroke="#9a9a9a" stroke-width="1"/>
<path d="M232 17 H243.8 M237.6 11.4 V22.8" stroke="#777" stroke-width="1.2" fill="none"/>
<!-- blue line tool -->
<line x1="250.4" y1="17" x2="260.2" y2="17" stroke="#2a4cff" stroke-width="1.3"/>
<circle cx="250.4" cy="17" r="1.3" fill="#2a4cff"/><circle cx="260.2" cy="17" r="1.3" fill="#2a4cff"/>
<path d="M268.8 15.4 H276 L272.4 19.6 Z" fill="#000"/>
<line x1="282" y1="9.6" x2="282" y2="24" stroke="#a8a8a8" stroke-width="1.1"/>
<!-- clock -->
<path d="M290.2 13 A5.4 5.4 0 1 0 294 11.2" fill="none" stroke="#5e627c" stroke-width="1.2"/>
<path d="M291 13.4 L294.6 17" stroke="#5e627c" stroke-width="1.2"/>
<path d="M308 15.4 H315.2 L311.6 19.6 Z" fill="#000"/>
<!-- interval labels -->
<g font-size="16.4" fill="#5c5c64">
<text x="324" y="22" textLength="5.4" lengthAdjust="spacingAndGlyphs">1</text>
<text x="342.4" y="22" textLength="6.4" lengthAdjust="spacingAndGlyphs">2</text>
<text x="360.5" y="22" textLength="6.4" lengthAdjust="spacingAndGlyphs">5</text>
<text x="376.7" y="22" textLength="11.7" lengthAdjust="spacingAndGlyphs">15</text>
<text x="394.7" y="22" textLength="12.6" lengthAdjust="spacingAndGlyphs">30</text>
<text x="413.2" y="22" textLength="12.2" lengthAdjust="spacingAndGlyphs">60</text>
<text x="433.2" y="22" textLength="9.8" lengthAdjust="spacingAndGlyphs">D</text>
<text x="450.3" y="22" textLength="12.4" lengthAdjust="spacingAndGlyphs">W</text>
</g>
<line x1="468.5" y1="9.6" x2="468.5" y2="24" stroke="#a8a8a8" stroke-width="1.1"/>
<circle cx="480.6" cy="17" r="5.5" fill="none" stroke="#5e627c" stroke-width="1.2"/>
<path d="M476.9 13.3 L484.3 20.7 M484.3 13.3 L476.9 20.7" stroke="#5e627c" stroke-width="1.2"/>
</g>

</svg></body></html>
